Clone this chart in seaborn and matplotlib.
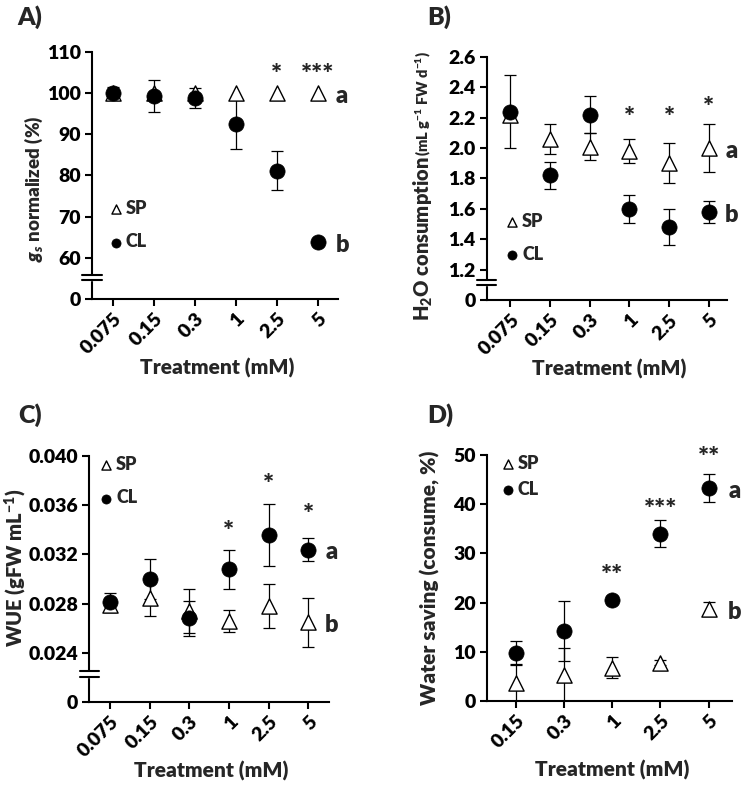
import numpy as np
import matplotlib
matplotlib.use('Agg')
import matplotlib.pyplot as plt
from matplotlib.patches import Rectangle
import seaborn as sns

# -------------------------------
# DATA
# -------------------------------
conc6 = ['0.075', '0.15', '0.3', '1', '2.5', '5']
conc5 = ['0.15', '0.3', '1', '2.5', '5']

# A) stomatal conductance, normalized (%)
gs_sp = [100, 100, 100, 100, 100, 100]
gs_sp_err = [0, 0, 0, 0, 0, 0]
gs_cl = [100, 99.3, 98.8, 92.5, 81.2, 63.8]
gs_cl_err = [1.5, 3.9, 2.5, 6.0, 4.8, 0.8]
gs_stars = {'2.5': ('*', 106), '5': ('***', 106)}

# B) H2O consumption
h2o_sp = [2.22, 2.06, 2.01, 1.98, 1.90, 2.00]
h2o_sp_err = [0, 0.10, 0.09, 0.08, 0.13, 0.16]
h2o_cl = [2.24, 1.82, 2.22, 1.60, 1.48, 1.58]
h2o_cl_err = [0.24, 0.09, 0.12, 0.09, 0.12, 0.07]
h2o_stars = {'1': ('*', 2.24), '2.5': ('*', 2.24), '5': ('*', 2.31)}

# C) WUE
wue_sp = [0.0279, 0.0285, 0.0274, 0.0266, 0.0278, 0.0265]
wue_sp_err = [0.0006, 0.0015, 0.0018, 0.0009, 0.0018, 0.0020]
wue_cl = [0.0281, 0.0300, 0.0268, 0.0308, 0.0336, 0.0324]
wue_cl_err = [0.0008, 0.0016, 0.0014, 0.0016, 0.0025, 0.0009]
wue_stars = {'1': ('*', 0.0344), '2.5': ('*', 0.0382), '5': ('*', 0.0358)}

# D) water saving (%)
ws_sp = [3.7, 5.3, 6.8, 7.8, 18.7]
ws_sp_err = [3.8, 5.5, 2.2, 0.5, 1.5]
ws_cl = [9.8, 14.3, 20.6, 34.0, 43.3]
ws_cl_err = [2.4, 6.1, 0.8, 2.8, 2.9]
ws_stars = {'1': ('**', 26.8), '2.5': ('***', 40.2), '5': ('**', 50.8)}

# y ticks
gs_ticks = [0, 60, 70, 80, 90, 100, 110]
gs_ticklabels = ['0', '60', '70', '80', '90', '100', '110']
h2o_ticks = [0, 1.2, 1.4, 1.6, 1.8, 2.0, 2.2, 2.4, 2.6]
h2o_ticklabels = ['0', '1.2', '1.4', '1.6', '1.8', '2.0', '2.2', '2.4', '2.6']
wue_ticks = [0, 0.024, 0.028, 0.032, 0.036, 0.040]
wue_ticklabels = ['0', '0.024', '0.028', '0.032', '0.036', '0.040']
ws_ticks = [0, 10, 20, 30, 40, 50]
ws_ticklabels = ['0', '10', '20', '30', '40', '50']

# -------------------------------
# STYLE
# -------------------------------
sns.set_style('white')
plt.rcParams['font.family'] = ['Lato', 'DejaVu Sans']
plt.rcParams['font.weight'] = 'heavy'
plt.rcParams['mathtext.fontset'] = 'custom'
plt.rcParams['mathtext.rm'] = 'Lato:heavy'
plt.rcParams['mathtext.it'] = 'Lato:heavy:italic'
plt.rcParams['mathtext.bf'] = 'Lato:heavy'
W = 'heavy'


def broken_scale(cut, gap):
    # values below `cut` are squeezed so that 0 sits `gap` below the cut
    k = gap / cut

    def fwd(v):
        v = np.asarray(v, dtype=float)
        return np.where(v >= cut, v, cut - gap + v * k)

    def inv(u):
        u = np.asarray(u, dtype=float)
        return np.where(u >= cut, u, (u - (cut - gap)) / k)
    return fwd, inv


def errbars(ax, pos, vals, errs):
    keep = [i for i, e in enumerate(errs) if e > 0]
    if not keep:
        return
    ax.errorbar([pos[i] for i in keep], [vals[i] for i in keep],
                yerr=[errs[i] for i in keep], fmt='none', ecolor='black',
                elinewidth=0.9, capsize=4, capthick=0.9, zorder=1)


def panel(ax, cats, sp, sp_err, cl, cl_err, ticks, ticklabels, ylim, xlim):
    pos = list(range(len(cats)))
    errbars(ax, pos, sp, sp_err)
    errbars(ax, pos, cl, cl_err)
    sns.scatterplot(x=pos, y=sp, marker='^', s=120, color='white',
                    edgecolor='black', linewidth=1.0, label='SP', ax=ax, zorder=3)
    sns.scatterplot(x=pos, y=cl, marker='o', s=120, color='black',
                    edgecolor='black', linewidth=0.5, label='CL', ax=ax, zorder=4)
    ax.set_xlim(*xlim)
    ax.set_ylim(*ylim)
    ax.set_xticks(pos)
    ax.set_xticklabels(cats, rotation=45, ha='right', rotation_mode='anchor')
    ax.set_yticks(ticks)
    ax.set_yticklabels(ticklabels)
    sns.despine(ax=ax)
    for s in ['left', 'bottom']:
        ax.spines[s].set_linewidth(1.5)
        ax.spines[s].set_color('black')
    ax.tick_params(direction='out', length=5, width=1.5, labelsize=14,
                   colors='black', pad=3, left=True, bottom=True)
    ax.set_xlabel('Treatment (mM)', fontsize=15, fontweight=W)
    return pos


def axis_break(ax, v_hi, v_lo):
    tr = ax.get_yaxis_transform()
    ax.add_patch(Rectangle((-0.02, v_lo), 0.04, v_hi - v_lo, transform=tr,
                           color='white', clip_on=False, zorder=5))
    for v in (v_hi, v_lo):
        ax.plot([-0.04, 0.04], [v, v], transform=tr, color='black', lw=1.5,
                clip_on=False, zorder=6)


def letters(ax, x, ya, yb):
    for s, y in (('a', ya), ('b', yb)):
        ax.annotate(s, (x, y), xytext=(0, -2), textcoords='offset points',
                    ha='center', va='center', fontsize=17, fontweight=W,
                    annotation_clip=False)


def stars(ax, cats, marks):
    for c, (s, y) in marks.items():
        ax.annotate(s, (cats.index(c), y), xytext=(0, -5),
                    textcoords='offset points', ha='center', va='center',
                    fontsize=19, fontweight=W, annotation_clip=False)


def legend(ax, x, y, spacing):
    ax.legend(loc='upper left', bbox_to_anchor=(x, y), frameon=False,
              markerscale=0.6, handlelength=0.7, handletextpad=0.2,
              borderpad=0, borderaxespad=0, labelspacing=spacing,
              prop={'size': 13, 'weight': W})


fig = plt.figure(figsize=(7.43, 7.88), dpi=100)

# A)
axA = fig.add_axes([0.124, 0.6206, 0.331, 0.3134])
axA.set_yscale('function', functions=broken_scale(60, 10))
panel(axA, conc6, gs_sp, gs_sp_err, gs_cl, gs_cl_err, gs_ticks, gs_ticklabels,
      (0, 110), (-0.5, 5.5))
axis_break(axA, 35.6, 28.3)
stars(axA, conc6, gs_stars)
letters(axA, 5.6, 100, 63.8)
legend(axA, 0.07, 0.40, 0.9)
axA.set_ylabel(r'$g_s$ normalized (%)', fontsize=13.5, fontweight=W)
axA.yaxis.set_label_coords(-0.19, 0.445)

# B)
axB = fig.add_axes([0.655, 0.619, 0.323, 0.309])
axB.set_yscale('function', functions=broken_scale(1.2, 0.2))
panel(axB, conc6, h2o_sp, h2o_sp_err, h2o_cl, h2o_cl_err, h2o_ticks,
      h2o_ticklabels, (0, 2.6), (-0.6, 5.45))
axis_break(axB, 0.81, 0.61)
stars(axB, conc6, h2o_stars)
letters(axB, 5.58, 2.0, 1.58)
legend(axB, 0.08, 0.36, 0.9)
axB.set_ylabel(r'H$_\mathregular{2}$O consumption', fontsize=14.5, fontweight=W)
axB.yaxis.set_label_coords(-0.217, 0.255)
axB.annotate(r'(mL g$^\mathregular{-1}$ FW d$^\mathregular{-1}$)', xy=(0.5, 1.0),
             xycoords=axB.yaxis.label, rotation=90, ha='center', va='bottom',
             fontsize=10.5, fontweight=W)

# C)
axC = fig.add_axes([0.120, 0.109, 0.323, 0.3123])
axC.set_yscale('function', functions=broken_scale(0.024, 0.004))
panel(axC, conc6, wue_sp, wue_sp_err, wue_cl, wue_cl_err, wue_ticks,
      wue_ticklabels, (0, 0.040), (-0.53, 5.53))
axis_break(axC, 0.0152, 0.0123)
stars(axC, conc6, wue_stars)
letters(axC, 5.6, 0.0324, 0.0265)
legend(axC, 0.045, 1.0, 0.9)
axC.set_ylabel(r'WUE (gFW mL$^\mathregular{-1}$)', fontsize=14.5, fontweight=W)
axC.yaxis.set_label_coords(-0.25, 0.545)

# D)
axD = fig.add_axes([0.655, 0.1104, 0.330, 0.3122])
panel(axD, conc5, ws_sp, ws_sp_err, ws_cl, ws_cl_err, ws_ticks, ws_ticklabels,
      (0, 50), (-0.6, 4.48))
stars(axD, conc5, ws_stars)
letters(axD, 4.54, 43.3, 18.7)
legend(axD, 0.06, 1.0, 0.5)
axD.set_ylabel('Water saving (consume, %)', fontsize=15, fontweight=W)
axD.yaxis.set_label_coords(-0.19, 0.5)

for ax in (axA, axB, axC, axD):
    ax.xaxis.set_label_coords(0.51, -0.24)
    ax.xaxis.label.set_va('top')

for lab, x, y in [('A)', 17, 17), ('B)', 427, 17), ('C)', 18, 415), ('D)', 427, 415)]:
    fig.text(x / 743, 1 - y / 788, lab, fontsize=18, fontweight=W,
             ha='left', va='center')

fig.savefig('out.png', dpi=100)
